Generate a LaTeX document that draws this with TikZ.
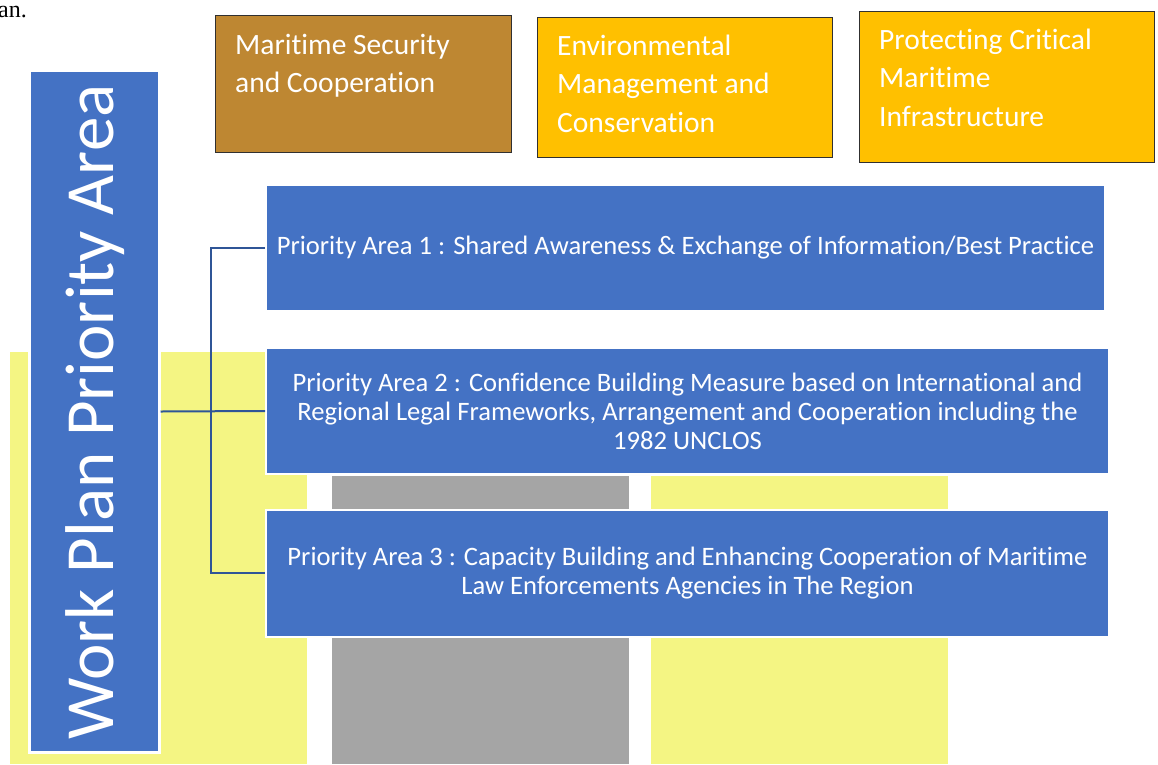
\documentclass[tikz,border=0pt]{standalone}
\usepackage{fontspec}
\setmainfont{Carlito}[Ligatures=NoCommon]
\newfontfamily\bodyserif{Liberation Serif}
\definecolor{pablue}{HTML}{4472C4}
\definecolor{connblue}{HTML}{2F5597}
\definecolor{brownbox}{HTML}{BE8732}
\definecolor{goldbox}{HTML}{FFC000}
\definecolor{paleyel}{HTML}{F4F583}
\definecolor{greyfill}{HTML}{A5A5A5}
\definecolor{edgegrey}{HTML}{303030}
\tikzset{
  pabox/.style={draw=white, line width=2pt, fill=pablue, text=white, align=center,
    inner sep=0pt, anchor=north west, font=\fontsize{26.6}{29}\selectfont},
  topbox/.style={draw=edgegrey, line width=1.2pt, anchor=north west, inner sep=0pt},
  toptext/.style={text=white, anchor=base west, inner sep=0pt, font=\fontsize{29.5}{38.5}\selectfont},
  conn/.style={draw=connblue, line width=2pt},
  sidebox/.style={draw=white, line width=3pt, fill=pablue, anchor=north west, inner sep=0pt},
}
\begin{document}
\begin{tikzpicture}[x=1pt,y=-1pt]
\useasboundingbox (0,0) rectangle (1158,764);
% background blocks
\fill[paleyel] (10,352) rectangle (307,764);
\fill[greyfill] (332,476) rectangle (629,764);
\fill[paleyel] (651,476) rectangle (948,764);
% text fragment
\node[font=\bodyserif\fontsize{24}{28}\selectfont, anchor=base east, inner sep=0pt] (frag) at (27,17.5) {an.};
% top boxes
\node[topbox, fill=brownbox, minimum width=296pt, minimum height=137pt] (mar) at (214.5,15) {};
\node[toptext] (martxt) at ([xshift=20.5pt,yshift=-39pt]mar.north west)
  {\begin{tabular}[t]{@{}l@{}}Maritime Security\\and Cooperation\end{tabular}};
\node[topbox, fill=goldbox, minimum width=295pt, minimum height=140pt] (env) at (536.5,17) {};
\node[toptext] (envtxt) at ([xshift=20.5pt,yshift=-38pt]env.north west)
  {\begin{tabular}[t]{@{}l@{}}Environmental\\Management and\\Conservation\end{tabular}};
\node[topbox, fill=goldbox, minimum width=295pt, minimum height=151pt] (pro) at (858.5,10.5) {};
\node[toptext] (protxt) at ([xshift=20.5pt,yshift=-38.5pt]pro.north west)
  {\begin{tabular}[t]{@{}l@{}}Protecting Critical\\Maritime\\Infrastructure\end{tabular}};
% side box
\node[sidebox, minimum width=130pt, minimum height=682pt] (wp) at (27.5,69) {};
\node[text=white, rotate=90, anchor=base, inner sep=0pt, font=\fontsize{69}{80}\selectfont]
  (wptxt) at (113,412) {Work Plan Priority Area};
% priority areas
\node[pabox, minimum width=839pt, minimum height=126pt] (pa1) at (265,184)
  {Priority Area 1 : Shared Awareness \& Exchange of Information/Best Practice};
\node[pabox, minimum width=843pt, minimum height=126pt] (pa2) at (265,347)
  {Priority Area 2 : Confidence Building Measure based on International and\\
   Regional Legal Frameworks, Arrangement and Cooperation including the\\
   1982 UNCLOS};
\node[pabox, minimum width=843pt, minimum height=127pt] (pa3) at (265,508.5)
  {Priority Area 3 : Capacity Building and Enhancing Cooperation of Maritime\\
   Law Enforcements Agencies in The Region};
% connectors
\coordinate (bus) at (210.5,0);
\draw[conn] (wp.east) -- (pa2.west);
\draw[conn] (pa1.west) -- (pa1.west -| bus) -- (pa3.west -| bus) -- (pa3.west);
\end{tikzpicture}
\end{document}
